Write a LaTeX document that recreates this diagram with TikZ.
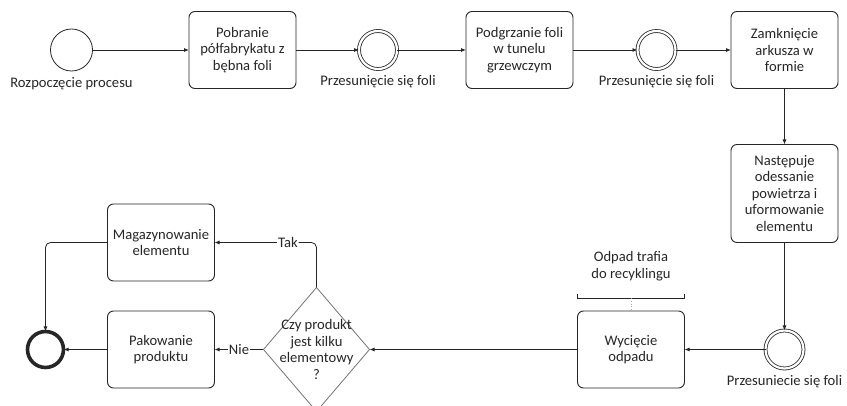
\documentclass[tikz,border=0pt]{standalone}
\usepackage{fontspec}
\setmainfont{Carlito}
\usepackage{tikz}
\usetikzlibrary{arrows.meta,positioning,shapes.geometric}
\tikzset{
  >={Latex[length=5pt,width=4pt]},
  block/.style={draw=black!85,rounded corners=6pt,align=center,minimum width=107pt,minimum height=77pt,inner sep=2pt,outer sep=0pt,line width=0.9pt},
  event/.style={draw=black!85,circle,minimum size=42pt,inner sep=0pt,outer sep=0pt,line width=0.8pt},
  midevent/.style={event,double,double distance=2.2pt,minimum size=38pt},
  endevent/.style={event,line width=3.6pt,minimum size=36pt},
  gateway/.style={draw=black!55,diamond,minimum width=106pt,minimum height=124pt,inner sep=0pt,outer sep=0pt,line width=0.8pt},
  evlabel/.style={label distance=3pt,text=black!85},
  arrow/.style={->,draw=black!85,line width=0.8pt},
}

\begin{document}
\begin{tikzpicture}[font=\fontsize{14.6}{16.5}\selectfont,text=black!85]
  \useasboundingbox (0,0) rectangle (847pt,-406pt);
  % top row
  \node[event,label={[evlabel]below:Rozpoczęcie procesu}] (start) at (71.5pt,-50pt) {};
  \node[block,right=96.5pt of start] (fetch) {Pobranie\\półfabrykatu z\\bębna foli};
  \node[midevent,right=63pt of fetch,label={[evlabel]below:Przesunięcie się foli}] (shift1) {};
  \node[block,right=69pt of shift1] (heat) {Podgrzanie foli\\w tunelu\\grzewczym};
  \node[midevent,right=64.5pt of heat,label={[evlabel]below:Przesunięcie się foli}] (shift2) {};
  \node[block,right=55.5pt of shift2] (close) {Zamknięcie\\arkusza w\\formie};
  % right column
  \node[block,below=56pt of close,minimum height=98pt] (suck) {Następuje\\odessanie\\powietrza i\\uformowanie\\elementu};
  \node[midevent,below=88pt of suck,label={[evlabel]below:Przesuniecie się foli}] (shift3) {};
  % bottom row
  \node[block,left=81pt of shift3] (cut) {Wycięcie\\odpadu};
  \node[gateway,left=208pt of cut,label={[align=center]center:Czy produkt\\jest kilku\\elementowy\\?}] (multi) {};
  \node[block,left=49pt of multi] (pack) {Pakowanie\\produktu};
  \node[block,above=30pt of pack] (store) {Magazynowanie\\elementu};
  \node[endevent,left=44pt of pack] (end) {};
  % annotation
  \node[above=30pt of cut,inner sep=0pt,align=center] (note) {Odpad trafia\\do recyklingu};
  \draw[black!85,line width=0.8pt] ([yshift=17pt]cut.north west) -- ([yshift=13pt]cut.north west)
    -- ([yshift=13pt]cut.north east) -- ([yshift=17pt]cut.north east);
  \draw[black!35,dotted,line width=0.8pt] ([yshift=13pt]cut.north) -- (cut.north);

  \draw[arrow] (start) -- (fetch);
  \draw[arrow] (fetch) -- (shift1);
  \draw[arrow] (shift1) -- (heat);
  \draw[arrow] (heat) -- (shift2);
  \draw[arrow] (shift2) -- (close);
  \draw[arrow] (close) -- (suck);
  \draw[arrow] (suck) -- (shift3);
  \draw[arrow] (shift3) -- (cut);
  \draw[arrow] (cut) -- (multi);
  \draw[arrow] (multi) -- node[fill=white,inner sep=1pt]{Nie} (pack);
  \draw[arrow,rounded corners=5pt] (multi.north) |- node[pos=0.64,fill=white,inner sep=1pt]{Tak} (store);
  \draw[arrow,rounded corners=5pt] (store) -| (end);
  \draw[arrow] (pack) -- (end);
\end{tikzpicture}
\end{document}
